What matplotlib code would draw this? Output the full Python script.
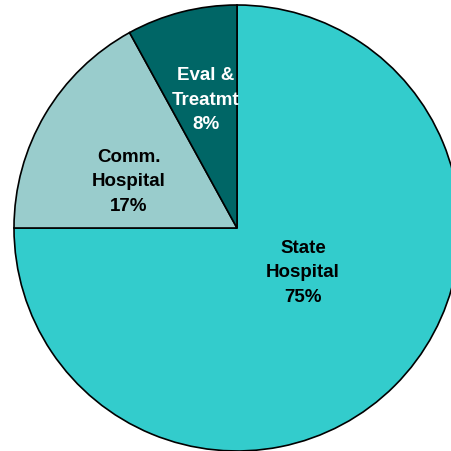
import matplotlib.pyplot as plt

# Data
labels = ['State\nHospital', 'Comm.\nHospital', 'Eval &\nTreatmt']
shares = [75, 17, 8]
colors = ['#33CCCC', '#99CCCC', '#006666']
text_colors = ['black', 'black', 'white']
label_pos = [(0.296, -0.197), (-0.484, 0.211), (-0.141, 0.578)]

fig = plt.figure(figsize=(4.52, 4.52), dpi=100)
# pie centre at pixel (237, 229), radius 223 px
ax = fig.add_axes([14 / 452, 0, 446 / 452, 446 / 452])

wedges, _ = ax.pie(shares, colors=colors, startangle=90, counterclock=False,
                   radius=1, wedgeprops=dict(edgecolor='black', linewidth=1.2))
for w in wedges:
    w.set_clip_on(False)

for lab, val, (x, y), tc in zip(labels, shares, label_pos, text_colors):
    ax.text(x, y, f'{lab}\n{val}%', ha='center', va='center', color=tc,
            fontsize=13.5, fontweight='bold', family='Liberation Sans',
            linespacing=1.6)

ax.set_xlim(-1, 1)
ax.set_ylim(-1, 1)
ax.set_axis_off()

plt.savefig('out.png', dpi=100)
